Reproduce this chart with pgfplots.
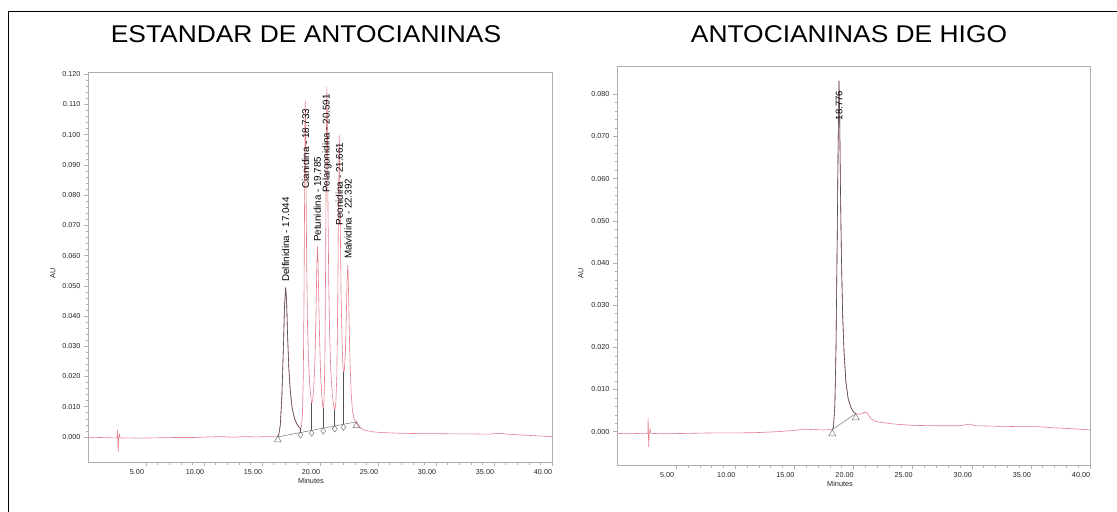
\documentclass[border=0pt]{standalone}
\usepackage{fontspec}
\setmainfont{Liberation Sans}
\usepackage{pgfplots}
\pgfplotsset{compat=1.18}
\usetikzlibrary{plotmarks}
\definecolor{trace}{RGB}{230,125,140}
\definecolor{peakc}{RGB}{80,80,80}
\definecolor{axc}{RGB}{175,175,175}
\definecolor{basec}{RGB}{120,120,120}
\newcommand{\tickfont}{\fontsize{7.2bp}{8bp}\selectfont}
\newcommand{\pkfont}{\fontsize{9.8bp}{11bp}\selectfont}
\pgfplotsset{chrom/.style={
  scale only axis, anchor=south west, xmin=0, xmax=40, clip=false,
  axis line style={axc, line width=0.6bp},
  tick style={axc, line width=0.5bp},
  tick align=outside, xtick pos=bottom, ytick pos=left,
  major tick length=4bp, minor tick length=2.5bp,
  xtick={5,10,15,20,25,30,35,40}, minor x tick num=4,
  minor y tick num=4,
  scaled y ticks=false, scaled x ticks=false,
  /pgf/number format/assume math mode=true,
  xticklabel style={/pgf/number format/.cd, fixed, fixed zerofill, precision=2, /tikz/.cd, font=\tickfont, text=black!85, xshift=-9bp},
  yticklabel style={/pgf/number format/.cd, fixed, fixed zerofill, precision=3, /tikz/.cd, font=\tickfont, text=black!85},
  xlabel={Minutes}, ylabel={AU},
  label style={font=\fontsize{7.3bp}{8bp}\selectfont, text=black!85},
}}
\begin{document}
\begin{tikzpicture}
\useasboundingbox (0,0) rectangle (1117bp,512bp);
\fill[white] (0,0) rectangle (1117bp,512bp);
\draw[black, line width=1.3bp] (8.8bp,0) -- (8.8bp,500.3bp) -- (1117bp,500.3bp);
\node[anchor=base, font=\fontsize{24.2bp}{28bp}\selectfont, xscale=1.09, inner sep=0] at (306bp,469bp) {ESTANDAR DE ANTOCIANINAS};
\node[anchor=base, font=\fontsize{24.2bp}{28bp}\selectfont, xscale=1.09, inner sep=0] at (849bp,469bp) {ANTOCIANINAS DE HIGO};

% ---------------- left: standard ----------------
\begin{axis}[chrom, at={(88bp,50bp)}, width=464bp, height=389.3bp,
  ymin=-0.0083, ymax=0.1205,
  ytick={0,0.01,0.02,0.03,0.04,0.05,0.06,0.07,0.08,0.09,0.1,0.11,0.12},
  xlabel style={at={(axis description cs:0.4806,-0.048)}, anchor=center},
  ylabel style={at={(axis description cs:-0.0754,0.4855)}, anchor=center, rotate=0}]
\addplot[trace, line width=0.6bp] coordinates {
(0.0,-0.0003) (1.0,-0.0002) (2.0,-0.0003) (2.50,-0.0003) (2.55,0.0022) (2.60,-0.0050) (2.65,-0.0004) (2.72,0.0008) (2.78,-0.0004) (3.5,-0.0003) (4.5,-0.0004) (6.0,-0.0003) (7.5,-0.0002) (9.0,-0.0002) (10.5,0.0000) (11.5,0.0001) (12.5,-0.0001) (13.5,0.0001) (14.5,0.0000) (15.5,0.0001) (16.36,0.0000)
(16.45,0.0008) (16.58,0.004) (16.72,0.014) (16.84,0.029) (16.94,0.043) (17.04,0.0495) (17.12,0.045) (17.21,0.033) (17.31,0.023) (17.44,0.015) (17.60,0.0095) (17.80,0.0062) (18.00,0.0043) (18.18,0.0033) (18.32,0.0028)
(18.40,0.0035) (18.48,0.007) (18.56,0.020) (18.62,0.045) (18.67,0.078) (18.70,0.100) (18.733,0.1112) (18.76,0.104) (18.80,0.082) (18.85,0.058) (18.92,0.038) (19.00,0.026) (19.10,0.018) (19.20,0.0135) (19.28,0.0112)
(19.36,0.012) (19.46,0.016) (19.57,0.026) (19.66,0.042) (19.73,0.057) (19.785,0.063) (19.83,0.058) (19.90,0.044) (19.98,0.030) (20.06,0.020) (20.15,0.014) (20.22,0.0108) (20.28,0.0095)
(20.35,0.012) (20.42,0.025) (20.48,0.055) (20.53,0.090) (20.591,0.1158) (20.63,0.106) (20.68,0.080) (20.75,0.052) (20.83,0.034) (20.93,0.022) (21.05,0.0145) (21.17,0.0105) (21.27,0.0088)
(21.36,0.011) (21.45,0.020) (21.53,0.045) (21.59,0.075) (21.661,0.0998) (21.70,0.092) (21.75,0.070) (21.82,0.046) (21.90,0.032) (21.97,0.024) (22.02,0.0215)
(22.10,0.022) (22.19,0.028) (22.27,0.040) (22.33,0.052) (22.392,0.0568) (22.44,0.052) (22.50,0.040) (22.58,0.026) (22.68,0.015) (22.80,0.0085) (22.95,0.0058) (23.15,0.0045) (23.40,0.0032) (23.80,0.0023) (24.50,0.0017) (25.5,0.0014) (27.0,0.0012) (28.5,0.0011) (30.0,0.0011) (31.5,0.0010) (33.0,0.0010) (34.5,0.0009) (35.5,0.0012) (36.2,0.0009) (37.5,0.0006) (39.0,0.0003) (40.0,0.0001)
};
% integrated first peak (dark)
\addplot[peakc, line width=0.6bp] coordinates {
(16.36,0.0000) (16.45,0.0008) (16.58,0.004) (16.72,0.014) (16.84,0.029) (16.94,0.043) (17.04,0.0495) (17.12,0.045) (17.21,0.033) (17.31,0.023) (17.44,0.015) (17.60,0.0095) (17.80,0.0062) (18.00,0.0043) (18.18,0.0033) (18.32,0.0028)
};
% baseline
\addplot[basec, line width=0.5bp] coordinates {(16.36,0.0000) (23.15,0.0050)};
% drop lines
\addplot[peakc, line width=0.5bp] coordinates {(18.32,0.0028) (18.32,0.0014)};
\addplot[peakc, line width=0.5bp] coordinates {(19.28,0.0112) (19.28,0.0021)};
\addplot[peakc, line width=0.5bp] coordinates {(20.28,0.0095) (20.28,0.0029)};
\addplot[peakc, line width=0.5bp] coordinates {(21.27,0.0088) (21.27,0.0036)};
\addplot[peakc, line width=0.5bp] coordinates {(22.02,0.0215) (22.02,0.0042)};
% markers
\addplot[only marks, mark=diamond, mark size=3.2bp, mark options={basec, fill=white, line width=0.5bp}] coordinates {
(18.32,0.0007) (19.28,0.0013) (20.28,0.0020) (21.27,0.0027) (22.02,0.0032)};
\addplot[only marks, mark=triangle, mark size=4bp, mark options={basec, fill=white, line width=0.5bp}] coordinates {
(16.36,-0.0010) (23.15,0.0037)};
% peak labels
\node[rotate=90, anchor=west, inner sep=0, font=\pkfont] at (axis cs:17.04,0.0513) {Delfinidina - 17.044};
\node[rotate=90, anchor=west, inner sep=0, font=\pkfont] at (axis cs:18.76,0.0822) {Cianidina - 18.733};
\node[rotate=90, anchor=west, inner sep=0, font=\pkfont] at (axis cs:19.78,0.0645) {Petunidina - 19.785};
\node[rotate=90, anchor=west, inner sep=0, font=\pkfont] at (axis cs:20.62,0.0807) {Pelargonidina - 20.591};
\node[rotate=90, anchor=west, inner sep=0, font=\pkfont] at (axis cs:21.67,0.0700) {Peonidina - 21.661};
\node[rotate=90, anchor=west, inner sep=0, font=\pkfont] at (axis cs:22.42,0.0588) {Malvidina - 22.392};
\end{axis}

% ---------------- right: fig ----------------
\begin{axis}[chrom, at={(617bp,47bp)}, width=473bp, height=399bp,
  ymin=-0.0079, ymax=0.0867,
  ytick={0,0.01,0.02,0.03,0.04,0.05,0.06,0.07,0.08},
  xlabel style={at={(axis description cs:0.4715,-0.0476)}, anchor=center},
  ylabel style={at={(axis description cs:-0.0761,0.481)}, anchor=center}]
\addplot[trace, line width=0.6bp] coordinates {
(0.0,-0.0004) (1.0,-0.0005) (2.0,-0.0004) (2.60,-0.0004) (2.63,0.0032) (2.68,-0.0036) (2.72,-0.0005) (2.80,0.0006) (2.86,-0.0004) (4.0,-0.0005) (6.0,-0.0004) (8.0,-0.0003) (10.0,-0.0003) (12.0,-0.0002) (13.5,0.0000) (15.0,0.0003) (15.8,0.0006) (16.5,0.0005) (17.5,0.0004) (18.21,0.0005)
(18.30,0.0010) (18.42,0.006) (18.52,0.020) (18.62,0.045) (18.70,0.068) (18.776,0.0832) (18.83,0.075) (18.90,0.057) (18.98,0.041) (19.08,0.028) (19.20,0.019) (19.35,0.012) (19.55,0.0078) (19.80,0.0056) (20.00,0.0047) (20.19,0.0043)
(20.5,0.0041) (20.8,0.0044) (21.0,0.0047) (21.2,0.0042) (21.5,0.0030) (21.9,0.0024) (22.6,0.0021) (23.5,0.0018) (25.0,0.0015) (27.0,0.0014) (29.0,0.0014) (29.8,0.0018) (30.3,0.0014) (32.0,0.0013) (34.0,0.0012) (35.5,0.0012) (37.0,0.0009) (38.5,0.0007) (40.0,0.0004)
};
\addplot[peakc, line width=0.6bp] coordinates {
(18.21,0.0005) (18.30,0.0010) (18.42,0.006) (18.52,0.020) (18.62,0.045) (18.70,0.068) (18.776,0.0832) (18.83,0.075) (18.90,0.057) (18.98,0.041) (19.08,0.028) (19.20,0.019) (19.35,0.012) (19.55,0.0078) (19.80,0.0056) (20.00,0.0047) (20.19,0.0043)
};
\addplot[basec, line width=0.5bp] coordinates {(18.21,0.0005) (20.19,0.0043)};
\addplot[only marks, mark=triangle, mark size=4bp, mark options={basec, fill=white, line width=0.5bp}] coordinates {
(18.21,-0.0005) (20.19,0.0033)};
\node[rotate=90, anchor=center, inner sep=0, font=\fontsize{9.5bp}{11bp}\selectfont] at (axis cs:18.776,0.0773) {18.776};
\end{axis}
\end{tikzpicture}
\end{document}
